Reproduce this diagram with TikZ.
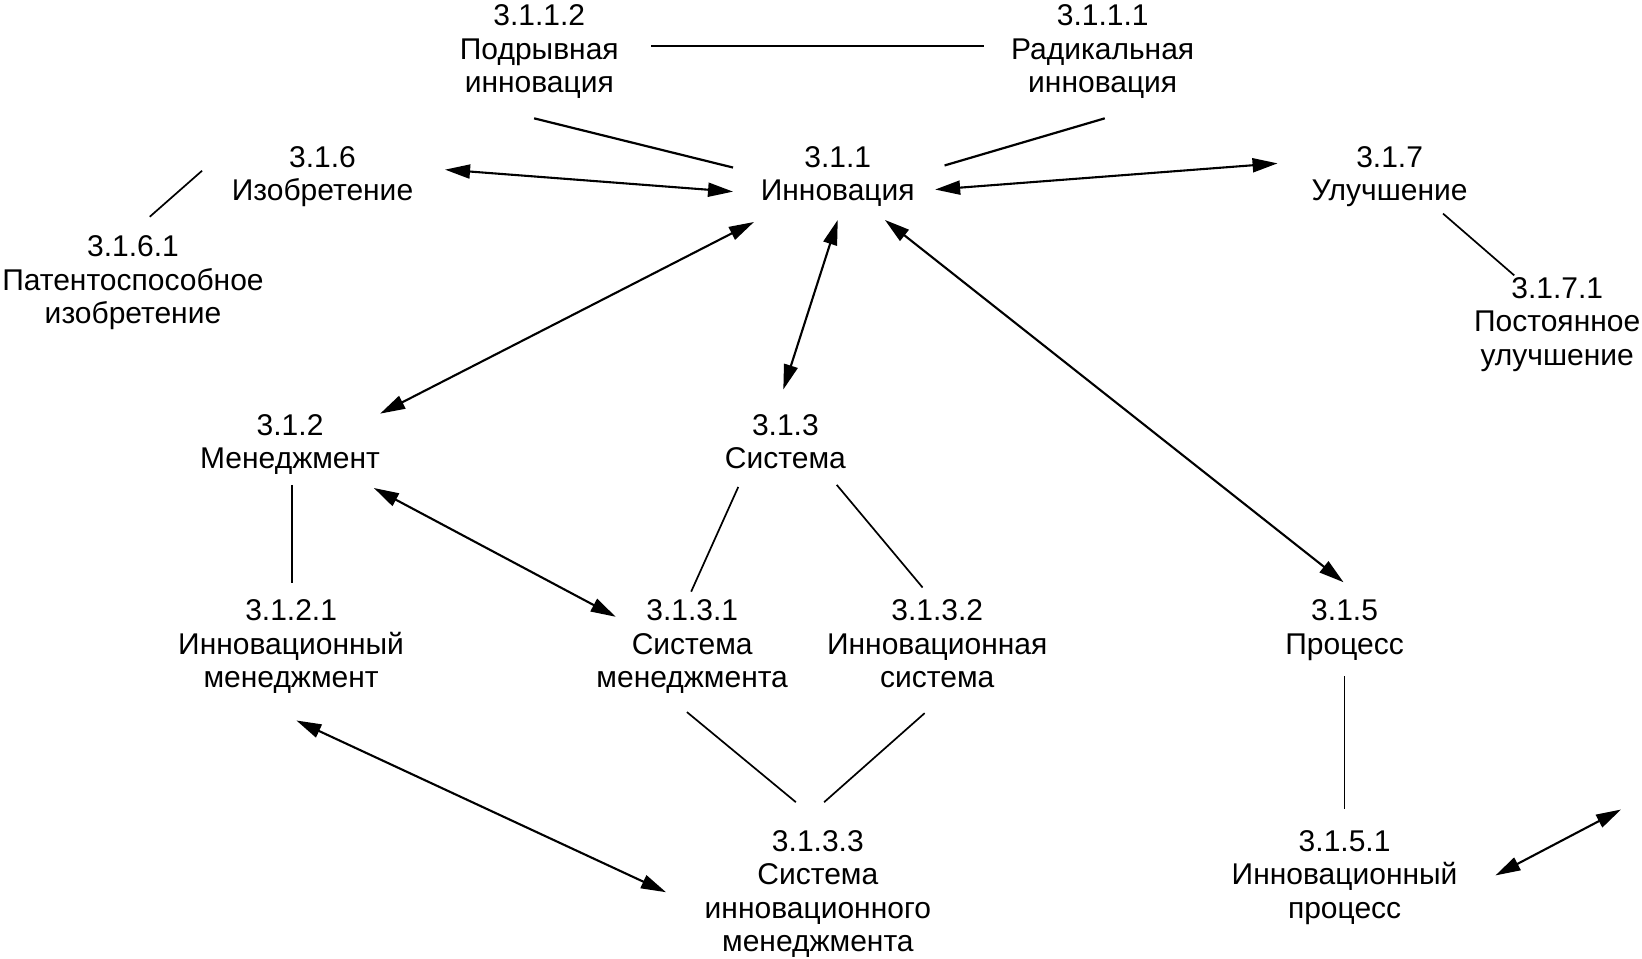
\documentclass[tikz,border=0pt]{standalone}
\usepackage{fontspec}
\setmainfont{Liberation Sans}
\usetikzlibrary{arrows.meta}
\begin{document}
\begin{tikzpicture}[x=1.0472pt,y=-1.0472pt,
  lbl/.style={align=center,inner sep=0pt,font=\fontsize{30}{33.5}\selectfont,
    execute at begin node=\strut,execute at end node=\strut},
  con/.style={line width=1.7pt},
  dbl/.style={line width=2.1pt,{Triangle[length=25pt,width=14pt]}-{Triangle[length=25pt,width=14pt]}}]
\useasboundingbox (0,0) rectangle (1568,915);
% nodes
\node[lbl] (n1112) at (515,51.5) {3.1.1.2\\Подрывная\\инновация};
\node[lbl] (n1111) at (1053,51.5) {3.1.1.1\\Радикальная\\инновация};
\node[lbl] (n116) at (308,170.5) {3.1.6\\Изобретение};
\node[lbl] (n11) at (800,170.5) {3.1.1\\Инновация};
\node[lbl] (n117) at (1327,170.5) {3.1.7\\Улучшение};
\node[lbl] (n1161) at (127,272) {3.1.6.1\\Патентоспособное\\изобретение};
\node[lbl] (n1171) at (1487,311.5) {3.1.7.1\\Постоянное\\улучшение};
\node[lbl] (n12) at (277,426.5) {3.1.2\\Менеджмент};
\node[lbl] (n13) at (750,426.5) {3.1.3\\Система};
\node[lbl] (n121) at (278,619.5) {3.1.2.1\\Инновационный\\менеджмент};
\node[lbl] (n131) at (661,619.5) {3.1.3.1\\Система\\менеджмента};
\node[lbl] (n132) at (895,619.5) {3.1.3.2\\Инновационная\\система};
\node[lbl] (n15) at (1284,603.5) {3.1.5\\Процесс};
\node[lbl] (n1133) at (781,855.5) {3.1.3.3\\Система\\инновационного\\менеджмента};
\node[lbl] (n151) at (1284,839.5) {3.1.5.1\\Инновационный\\процесс};
% connector end points
\coordinate (a1) at (622,44);  \coordinate (a2) at (940,44);
\coordinate (b1) at (510,113); \coordinate (b2) at (700,160);
\coordinate (c1) at (1055,113); \coordinate (c2) at (902,158);
\coordinate (d1) at (425,162); \coordinate (d2) at (700,183);
\coordinate (e1) at (893,181); \coordinate (e2) at (1220,156);
\coordinate (f1) at (143,207); \coordinate (f2) at (193,163);
\coordinate (g1) at (1378,204); \coordinate (g2) at (1446,263);
\coordinate (h1) at (720,212); \coordinate (h2) at (363,395);
\coordinate (i1) at (800,210); \coordinate (i2) at (748,372);
\coordinate (j1) at (845,210); \coordinate (j2) at (1283,556);
\coordinate (k1) at (279,463); \coordinate (k2) at (279,557);
\coordinate (l1) at (357,466); \coordinate (l2) at (588,589);
\coordinate (m1) at (705,465); \coordinate (m2) at (660,565);
\coordinate (o1) at (799,463); \coordinate (o2) at (881,561);
\coordinate (p1) at (656,680); \coordinate (p2) at (760,766);
\coordinate (q1) at (883,681); \coordinate (q2) at (787,766);
\coordinate (r1) at (283,688); \coordinate (r2) at (636,852);
\coordinate (s1) at (1284,646); \coordinate (s2) at (1284,773);
\coordinate (t1) at (1428,836); \coordinate (t2) at (1548,773);
% connectors
\draw[con,line width=2.4pt] (a1) -- (a2);
\draw[con,line width=2.2pt] (b1) -- (b2);
\draw[con,line width=2.2pt] (c1) -- (c2);
\draw[dbl] (d1) -- (d2);
\draw[dbl] (e1) -- (e2);
\draw[con] (f1) -- (f2);
\draw[con] (g1) -- (g2);
\draw[dbl] (h1) -- (h2);
\draw[dbl] (i1) -- (i2);
\draw[dbl] (j1) -- (j2);
\draw[con] (k1) -- (k2);
\draw[dbl] (l1) -- (l2);
\draw[con] (m1) -- (m2);
\draw[con] (o1) -- (o2);
\draw[con] (p1) -- (p2);
\draw[con] (q1) -- (q2);
\draw[dbl] (r1) -- (r2);
\draw[con] (s1) -- (s2);
\draw[dbl] (t1) -- (t2);
\end{tikzpicture}
\end{document}
